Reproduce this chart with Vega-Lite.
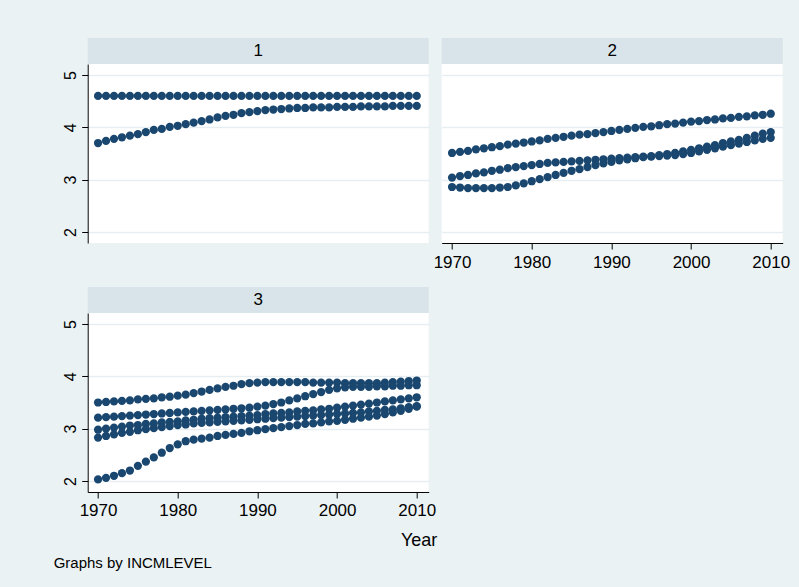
{
"$schema": "https://vega.github.io/schema/vega-lite/v6.json",
"background": "#eaf2f3",
"padding": {"left": 52.7, "top": 38, "right": 10, "bottom": 17},
"title": {"text": "Graphs by INCMLEVEL", "orient": "bottom", "anchor": "start", "frame": "bounds", "offset": 6, "dx": -9, "fontSize": 15, "fontWeight": "normal", "font": "Liberation Sans", "color": "black", "baseline": "top"},
"config": {"view": {"fill": "white", "stroke": null}, "font": "Liberation Sans"},
"datasets": {
"p1": [
{"series":"a","year":1970,"value":4.6},{"series":"a","year":1971,"value":4.6},{"series":"a","year":1972,"value":4.6},{"series":"a","year":1973,"value":4.6},{"series":"a","year":1974,"value":4.6},{"series":"a","year":1975,"value":4.6},{"series":"a","year":1976,"value":4.6},{"series":"a","year":1977,"value":4.6},{"series":"a","year":1978,"value":4.6},{"series":"a","year":1979,"value":4.6},
{"series":"a","year":1980,"value":4.6},{"series":"a","year":1981,"value":4.6},{"series":"a","year":1982,"value":4.6},{"series":"a","year":1983,"value":4.6},{"series":"a","year":1984,"value":4.6},{"series":"a","year":1985,"value":4.6},{"series":"a","year":1986,"value":4.6},{"series":"a","year":1987,"value":4.6},{"series":"a","year":1988,"value":4.6},{"series":"a","year":1989,"value":4.6},
{"series":"a","year":1990,"value":4.6},{"series":"a","year":1991,"value":4.6},{"series":"a","year":1992,"value":4.6},{"series":"a","year":1993,"value":4.6},{"series":"a","year":1994,"value":4.6},{"series":"a","year":1995,"value":4.6},{"series":"a","year":1996,"value":4.6},{"series":"a","year":1997,"value":4.6},{"series":"a","year":1998,"value":4.6},{"series":"a","year":1999,"value":4.6},
{"series":"a","year":2000,"value":4.6},{"series":"a","year":2001,"value":4.6},{"series":"a","year":2002,"value":4.6},{"series":"a","year":2003,"value":4.6},{"series":"a","year":2004,"value":4.6},{"series":"a","year":2005,"value":4.6},{"series":"a","year":2006,"value":4.6},{"series":"a","year":2007,"value":4.6},{"series":"a","year":2008,"value":4.6},{"series":"a","year":2009,"value":4.6},{"series":"a","year":2010,"value":4.6},
{"series":"b","year":1970,"value":3.70},{"series":"b","year":1971,"value":3.74},{"series":"b","year":1972,"value":3.78},{"series":"b","year":1973,"value":3.81},{"series":"b","year":1974,"value":3.84},{"series":"b","year":1975,"value":3.87},{"series":"b","year":1976,"value":3.91},{"series":"b","year":1977,"value":3.95},{"series":"b","year":1978,"value":3.97},{"series":"b","year":1979,"value":4.01},
{"series":"b","year":1980,"value":4.03},{"series":"b","year":1981,"value":4.06},{"series":"b","year":1982,"value":4.09},{"series":"b","year":1983,"value":4.12},{"series":"b","year":1984,"value":4.15},{"series":"b","year":1985,"value":4.19},{"series":"b","year":1986,"value":4.22},{"series":"b","year":1987,"value":4.24},{"series":"b","year":1988,"value":4.27},{"series":"b","year":1989,"value":4.29},
{"series":"b","year":1990,"value":4.31},{"series":"b","year":1991,"value":4.33},{"series":"b","year":1992,"value":4.34},{"series":"b","year":1993,"value":4.35},{"series":"b","year":1994,"value":4.36},{"series":"b","year":1995,"value":4.37},{"series":"b","year":1996,"value":4.37},{"series":"b","year":1997,"value":4.38},{"series":"b","year":1998,"value":4.38},{"series":"b","year":1999,"value":4.38},
{"series":"b","year":2000,"value":4.39},{"series":"b","year":2001,"value":4.39},{"series":"b","year":2002,"value":4.39},{"series":"b","year":2003,"value":4.40},{"series":"b","year":2004,"value":4.40},{"series":"b","year":2005,"value":4.40},{"series":"b","year":2006,"value":4.40},{"series":"b","year":2007,"value":4.41},{"series":"b","year":2008,"value":4.41},{"series":"b","year":2009,"value":4.41},{"series":"b","year":2010,"value":4.41}
],
"p2": [
{"series":"a","year":1970,"value":3.51},{"series":"a","year":1971,"value":3.53},{"series":"a","year":1972,"value":3.55},{"series":"a","year":1973,"value":3.58},{"series":"a","year":1974,"value":3.60},{"series":"a","year":1975,"value":3.62},{"series":"a","year":1976,"value":3.64},{"series":"a","year":1977,"value":3.67},{"series":"a","year":1978,"value":3.69},{"series":"a","year":1979,"value":3.71},
{"series":"a","year":1980,"value":3.73},{"series":"a","year":1981,"value":3.75},{"series":"a","year":1982,"value":3.78},{"series":"a","year":1983,"value":3.80},{"series":"a","year":1984,"value":3.82},{"series":"a","year":1985,"value":3.84},{"series":"a","year":1986,"value":3.86},{"series":"a","year":1987,"value":3.87},{"series":"a","year":1988,"value":3.89},{"series":"a","year":1989,"value":3.91},
{"series":"a","year":1990,"value":3.93},{"series":"a","year":1991,"value":3.95},{"series":"a","year":1992,"value":3.97},{"series":"a","year":1993,"value":3.99},{"series":"a","year":1994,"value":4.01},{"series":"a","year":1995,"value":4.02},{"series":"a","year":1996,"value":4.04},{"series":"a","year":1997,"value":4.06},{"series":"a","year":1998,"value":4.07},{"series":"a","year":1999,"value":4.09},
{"series":"a","year":2000,"value":4.11},{"series":"a","year":2001,"value":4.12},{"series":"a","year":2002,"value":4.14},{"series":"a","year":2003,"value":4.15},{"series":"a","year":2004,"value":4.17},{"series":"a","year":2005,"value":4.18},{"series":"a","year":2006,"value":4.20},{"series":"a","year":2007,"value":4.21},{"series":"a","year":2008,"value":4.23},{"series":"a","year":2009,"value":4.24},{"series":"a","year":2010,"value":4.26},
{"series":"b","year":1970,"value":3.04},{"series":"b","year":1971,"value":3.07},{"series":"b","year":1972,"value":3.09},{"series":"b","year":1973,"value":3.12},{"series":"b","year":1974,"value":3.14},{"series":"b","year":1975,"value":3.17},{"series":"b","year":1976,"value":3.19},{"series":"b","year":1977,"value":3.22},{"series":"b","year":1978,"value":3.24},{"series":"b","year":1979,"value":3.26},
{"series":"b","year":1980,"value":3.28},{"series":"b","year":1981,"value":3.30},{"series":"b","year":1982,"value":3.32},{"series":"b","year":1983,"value":3.33},{"series":"b","year":1984,"value":3.34},{"series":"b","year":1985,"value":3.35},{"series":"b","year":1986,"value":3.36},{"series":"b","year":1987,"value":3.37},{"series":"b","year":1988,"value":3.38},{"series":"b","year":1989,"value":3.39},
{"series":"b","year":1990,"value":3.40},{"series":"b","year":1991,"value":3.41},{"series":"b","year":1992,"value":3.42},{"series":"b","year":1993,"value":3.43},{"series":"b","year":1994,"value":3.44},{"series":"b","year":1995,"value":3.45},{"series":"b","year":1996,"value":3.47},{"series":"b","year":1997,"value":3.49},{"series":"b","year":1998,"value":3.51},{"series":"b","year":1999,"value":3.54},
{"series":"b","year":2000,"value":3.57},{"series":"b","year":2001,"value":3.60},{"series":"b","year":2002,"value":3.63},{"series":"b","year":2003,"value":3.66},{"series":"b","year":2004,"value":3.70},{"series":"b","year":2005,"value":3.73},{"series":"b","year":2006,"value":3.76},{"series":"b","year":2007,"value":3.80},{"series":"b","year":2008,"value":3.84},{"series":"b","year":2009,"value":3.88},{"series":"b","year":2010,"value":3.91},
{"series":"c","year":1970,"value":2.86},{"series":"c","year":1971,"value":2.85},{"series":"c","year":1972,"value":2.84},{"series":"c","year":1973,"value":2.84},{"series":"c","year":1974,"value":2.84},{"series":"c","year":1975,"value":2.84},{"series":"c","year":1976,"value":2.85},{"series":"c","year":1977,"value":2.86},{"series":"c","year":1978,"value":2.89},{"series":"c","year":1979,"value":2.93},
{"series":"c","year":1980,"value":2.97},{"series":"c","year":1981,"value":3.01},{"series":"c","year":1982,"value":3.05},{"series":"c","year":1983,"value":3.09},{"series":"c","year":1984,"value":3.13},{"series":"c","year":1985,"value":3.17},{"series":"c","year":1986,"value":3.20},{"series":"c","year":1987,"value":3.24},{"series":"c","year":1988,"value":3.28},{"series":"c","year":1989,"value":3.31},
{"series":"c","year":1990,"value":3.34},{"series":"c","year":1991,"value":3.37},{"series":"c","year":1992,"value":3.39},{"series":"c","year":1993,"value":3.41},{"series":"c","year":1994,"value":3.43},{"series":"c","year":1995,"value":3.44},{"series":"c","year":1996,"value":3.45},{"series":"c","year":1997,"value":3.46},{"series":"c","year":1998,"value":3.47},{"series":"c","year":1999,"value":3.49},
{"series":"c","year":2000,"value":3.51},{"series":"c","year":2001,"value":3.54},{"series":"c","year":2002,"value":3.57},{"series":"c","year":2003,"value":3.60},{"series":"c","year":2004,"value":3.63},{"series":"c","year":2005,"value":3.66},{"series":"c","year":2006,"value":3.69},{"series":"c","year":2007,"value":3.72},{"series":"c","year":2008,"value":3.75},{"series":"c","year":2009,"value":3.78},{"series":"c","year":2010,"value":3.80}
],
"p3": [
{"series":"a","year":1970,"value":3.50},{"series":"a","year":1971,"value":3.51},{"series":"a","year":1972,"value":3.52},{"series":"a","year":1973,"value":3.53},{"series":"a","year":1974,"value":3.54},{"series":"a","year":1975,"value":3.56},{"series":"a","year":1976,"value":3.57},{"series":"a","year":1977,"value":3.58},{"series":"a","year":1978,"value":3.60},{"series":"a","year":1979,"value":3.61},
{"series":"a","year":1980,"value":3.63},{"series":"a","year":1981,"value":3.65},{"series":"a","year":1982,"value":3.68},{"series":"a","year":1983,"value":3.71},{"series":"a","year":1984,"value":3.74},{"series":"a","year":1985,"value":3.77},{"series":"a","year":1986,"value":3.80},{"series":"a","year":1987,"value":3.82},{"series":"a","year":1988,"value":3.85},{"series":"a","year":1989,"value":3.87},
{"series":"a","year":1990,"value":3.88},{"series":"a","year":1991,"value":3.89},{"series":"a","year":1992,"value":3.89},{"series":"a","year":1993,"value":3.89},{"series":"a","year":1994,"value":3.89},{"series":"a","year":1995,"value":3.89},{"series":"a","year":1996,"value":3.89},{"series":"a","year":1997,"value":3.88},{"series":"a","year":1998,"value":3.88},{"series":"a","year":1999,"value":3.88},
{"series":"a","year":2000,"value":3.88},{"series":"a","year":2001,"value":3.87},{"series":"a","year":2002,"value":3.87},{"series":"a","year":2003,"value":3.87},{"series":"a","year":2004,"value":3.87},{"series":"a","year":2005,"value":3.87},{"series":"a","year":2006,"value":3.88},{"series":"a","year":2007,"value":3.89},{"series":"a","year":2008,"value":3.90},{"series":"a","year":2009,"value":3.91},{"series":"a","year":2010,"value":3.92},
{"series":"b","year":1970,"value":3.21},{"series":"b","year":1971,"value":3.22},{"series":"b","year":1972,"value":3.23},{"series":"b","year":1973,"value":3.24},{"series":"b","year":1974,"value":3.25},{"series":"b","year":1975,"value":3.26},{"series":"b","year":1976,"value":3.27},{"series":"b","year":1977,"value":3.28},{"series":"b","year":1978,"value":3.29},{"series":"b","year":1979,"value":3.30},
{"series":"b","year":1980,"value":3.31},{"series":"b","year":1981,"value":3.32},{"series":"b","year":1982,"value":3.33},{"series":"b","year":1983,"value":3.34},{"series":"b","year":1984,"value":3.35},{"series":"b","year":1985,"value":3.36},{"series":"b","year":1986,"value":3.37},{"series":"b","year":1987,"value":3.38},{"series":"b","year":1988,"value":3.39},{"series":"b","year":1989,"value":3.40},
{"series":"b","year":1990,"value":3.42},{"series":"b","year":1991,"value":3.44},{"series":"b","year":1992,"value":3.47},{"series":"b","year":1993,"value":3.50},{"series":"b","year":1994,"value":3.54},{"series":"b","year":1995,"value":3.58},{"series":"b","year":1996,"value":3.62},{"series":"b","year":1997,"value":3.66},{"series":"b","year":1998,"value":3.70},{"series":"b","year":1999,"value":3.74},
{"series":"b","year":2000,"value":3.77},{"series":"b","year":2001,"value":3.79},{"series":"b","year":2002,"value":3.80},{"series":"b","year":2003,"value":3.80},{"series":"b","year":2004,"value":3.80},{"series":"b","year":2005,"value":3.81},{"series":"b","year":2006,"value":3.81},{"series":"b","year":2007,"value":3.82},{"series":"b","year":2008,"value":3.82},{"series":"b","year":2009,"value":3.83},{"series":"b","year":2010,"value":3.83},
{"series":"c","year":1970,"value":2.98},{"series":"c","year":1971,"value":3.00},{"series":"c","year":1972,"value":3.02},{"series":"c","year":1973,"value":3.04},{"series":"c","year":1974,"value":3.06},{"series":"c","year":1975,"value":3.07},{"series":"c","year":1976,"value":3.09},{"series":"c","year":1977,"value":3.10},{"series":"c","year":1978,"value":3.12},{"series":"c","year":1979,"value":3.13},
{"series":"c","year":1980,"value":3.14},{"series":"c","year":1981,"value":3.16},{"series":"c","year":1982,"value":3.17},{"series":"c","year":1983,"value":3.19},{"series":"c","year":1984,"value":3.20},{"series":"c","year":1985,"value":3.21},{"series":"c","year":1986,"value":3.22},{"series":"c","year":1987,"value":3.23},{"series":"c","year":1988,"value":3.24},{"series":"c","year":1989,"value":3.25},
{"series":"c","year":1990,"value":3.26},{"series":"c","year":1991,"value":3.28},{"series":"c","year":1992,"value":3.29},{"series":"c","year":1993,"value":3.30},{"series":"c","year":1994,"value":3.31},{"series":"c","year":1995,"value":3.33},{"series":"c","year":1996,"value":3.34},{"series":"c","year":1997,"value":3.35},{"series":"c","year":1998,"value":3.37},{"series":"c","year":1999,"value":3.38},
{"series":"c","year":2000,"value":3.40},{"series":"c","year":2001,"value":3.42},{"series":"c","year":2002,"value":3.44},{"series":"c","year":2003,"value":3.46},{"series":"c","year":2004,"value":3.48},{"series":"c","year":2005,"value":3.50},{"series":"c","year":2006,"value":3.52},{"series":"c","year":2007,"value":3.54},{"series":"c","year":2008,"value":3.56},{"series":"c","year":2009,"value":3.58},{"series":"c","year":2010,"value":3.60},
{"series":"d","year":1970,"value":2.83},{"series":"d","year":1971,"value":2.86},{"series":"d","year":1972,"value":2.89},{"series":"d","year":1973,"value":2.92},{"series":"d","year":1974,"value":2.94},{"series":"d","year":1975,"value":2.97},{"series":"d","year":1976,"value":2.99},{"series":"d","year":1977,"value":3.01},{"series":"d","year":1978,"value":3.03},{"series":"d","year":1979,"value":3.05},
{"series":"d","year":1980,"value":3.07},{"series":"d","year":1981,"value":3.08},{"series":"d","year":1982,"value":3.10},{"series":"d","year":1983,"value":3.11},{"series":"d","year":1984,"value":3.12},{"series":"d","year":1985,"value":3.13},{"series":"d","year":1986,"value":3.14},{"series":"d","year":1987,"value":3.15},{"series":"d","year":1988,"value":3.16},{"series":"d","year":1989,"value":3.17},
{"series":"d","year":1990,"value":3.18},{"series":"d","year":1991,"value":3.19},{"series":"d","year":1992,"value":3.20},{"series":"d","year":1993,"value":3.21},{"series":"d","year":1994,"value":3.22},{"series":"d","year":1995,"value":3.23},{"series":"d","year":1996,"value":3.24},{"series":"d","year":1997,"value":3.25},{"series":"d","year":1998,"value":3.26},{"series":"d","year":1999,"value":3.27},
{"series":"d","year":2000,"value":3.28},{"series":"d","year":2001,"value":3.29},{"series":"d","year":2002,"value":3.30},{"series":"d","year":2003,"value":3.31},{"series":"d","year":2004,"value":3.33},{"series":"d","year":2005,"value":3.34},{"series":"d","year":2006,"value":3.36},{"series":"d","year":2007,"value":3.37},{"series":"d","year":2008,"value":3.39},{"series":"d","year":2009,"value":3.41},{"series":"d","year":2010,"value":3.43},
{"series":"e","year":1970,"value":2.03},{"series":"e","year":1971,"value":2.06},{"series":"e","year":1972,"value":2.10},{"series":"e","year":1973,"value":2.15},{"series":"e","year":1974,"value":2.20},{"series":"e","year":1975,"value":2.29},{"series":"e","year":1976,"value":2.37},{"series":"e","year":1977,"value":2.45},{"series":"e","year":1978,"value":2.54},{"series":"e","year":1979,"value":2.63},
{"series":"e","year":1980,"value":2.70},{"series":"e","year":1981,"value":2.76},{"series":"e","year":1982,"value":2.79},{"series":"e","year":1983,"value":2.81},{"series":"e","year":1984,"value":2.83},{"series":"e","year":1985,"value":2.86},{"series":"e","year":1986,"value":2.88},{"series":"e","year":1987,"value":2.90},{"series":"e","year":1988,"value":2.92},{"series":"e","year":1989,"value":2.95},
{"series":"e","year":1990,"value":2.97},{"series":"e","year":1991,"value":2.99},{"series":"e","year":1992,"value":3.01},{"series":"e","year":1993,"value":3.03},{"series":"e","year":1994,"value":3.05},{"series":"e","year":1995,"value":3.07},{"series":"e","year":1996,"value":3.09},{"series":"e","year":1997,"value":3.10},{"series":"e","year":1998,"value":3.12},{"series":"e","year":1999,"value":3.14},
{"series":"e","year":2000,"value":3.15},{"series":"e","year":2001,"value":3.17},{"series":"e","year":2002,"value":3.19},{"series":"e","year":2003,"value":3.21},{"series":"e","year":2004,"value":3.23},{"series":"e","year":2005,"value":3.25},{"series":"e","year":2006,"value":3.28},{"series":"e","year":2007,"value":3.31},{"series":"e","year":2008,"value":3.34},{"series":"e","year":2009,"value":3.38},{"series":"e","year":2010,"value":3.42}
]
},
"columns": 2,
"spacing": {"row": 0, "column": 13},
"bounds": "flush",
"concat": [
{"width": 341, "height": 26, "view": {"fill": "#d8e4ea", "stroke": null}, "data": {"values": [{"label": "1"}]}, "mark": {"type": "text", "fontSize": 17, "font": "Liberation Sans", "color": "black", "baseline": "middle", "align": "center"}, "encoding": {"text": {"field": "label"}}},
{"width": 341, "height": 26, "view": {"fill": "#d8e4ea", "stroke": null}, "data": {"values": [{"label": "2"}]}, "mark": {"type": "text", "fontSize": 17, "font": "Liberation Sans", "color": "black", "baseline": "middle", "align": "center"}, "encoding": {"text": {"field": "label"}}},
{"width": 341, "height": 179, "data": {"name": "p1"},
"mark": {"type": "point", "filled": true, "size": 68, "opacity": 1, "color": "#1a476f", "strokeWidth": 0},
"encoding": {
"x": {"field": "year", "type": "quantitative", "scale": {"domain": [1968.7, 2011.5], "nice": false, "zero": false}, "axis": null},
"y": {"field": "value", "type": "quantitative", "scale": {"domain": [1.79, 5.21], "nice": false, "zero": false}, "axis": {"title": null, "values": [2, 3, 4, 5], "labelAngle": -90, "labelAlign": "center", "labelBaseline": "bottom", "labelFontSize": 16, "labelFont": "Liberation Sans", "labelColor": "black", "tickSize": 6, "tickColor": "black", "domainColor": "black", "labelPadding": 3, "grid": true, "gridColor": "#e6eef1", "gridWidth": 1.5, "labelFlush": false, "labelOverlap": false}},
"detail": {"field": "series"}
}},
{"width": 341, "height": 179, "data": {"name": "p2"},
"mark": {"type": "point", "filled": true, "size": 68, "opacity": 1, "color": "#1a476f", "strokeWidth": 0},
"encoding": {
"x": {"field": "year", "type": "quantitative", "scale": {"domain": [1968.7, 2011.5], "nice": false, "zero": false}, "axis": {"title": null, "values": [1970, 1980, 1990, 2000, 2010], "format": "d", "labelFontSize": 17, "labelFont": "Liberation Sans", "labelColor": "black", "tickSize": 6, "tickColor": "black", "domainColor": "black", "labelPadding": 5, "grid": false, "labelFlush": false, "labelOverlap": false}},
"y": {"field": "value", "type": "quantitative", "scale": {"domain": [1.79, 5.21], "nice": false, "zero": false}, "axis": {"title": null, "values": [2, 3, 4, 5], "labels": false, "ticks": false, "domain": false, "grid": true, "gridColor": "#e6eef1", "gridWidth": 1.5}},
"detail": {"field": "series"}
}},
{"width": 341, "height": 44, "view": {"fill": null, "stroke": null}, "data": {"values": []}, "mark": {"type": "point"}, "encoding": {}},
{"width": 341, "height": 44, "view": {"fill": null, "stroke": null}, "data": {"values": []}, "mark": {"type": "point"}, "encoding": {}},
{"width": 341, "height": 26, "view": {"fill": "#d8e4ea", "stroke": null}, "data": {"values": [{"label": "3"}]}, "mark": {"type": "text", "fontSize": 17, "font": "Liberation Sans", "color": "black", "baseline": "middle", "align": "center"}, "encoding": {"text": {"field": "label"}}},
{"width": 341, "height": 26, "view": {"fill": null, "stroke": null}, "data": {"values": []}, "mark": {"type": "point"}, "encoding": {}},
{"width": 341, "height": 179, "data": {"name": "p3"},
"mark": {"type": "point", "filled": true, "size": 68, "opacity": 1, "color": "#1a476f", "strokeWidth": 0},
"encoding": {
"x": {"field": "year", "type": "quantitative", "scale": {"domain": [1968.7, 2011.5], "nice": false, "zero": false}, "axis": {"title": "Year", "titleFontSize": 18, "titleFontWeight": "normal", "titleFont": "Liberation Sans", "titleColor": "black", "titleX": 331, "titleY": 54, "titleAlign": "center", "titleBaseline": "alphabetic", "values": [1970, 1980, 1990, 2000, 2010], "format": "d", "labelFontSize": 17, "labelFont": "Liberation Sans", "labelColor": "black", "tickSize": 6, "tickColor": "black", "domainColor": "black", "labelPadding": 5, "grid": false, "labelFlush": false, "labelOverlap": false}},
"y": {"field": "value", "type": "quantitative", "scale": {"domain": [1.79, 5.21], "nice": false, "zero": false}, "axis": {"title": null, "values": [2, 3, 4, 5], "labelAngle": -90, "labelAlign": "center", "labelBaseline": "bottom", "labelFontSize": 16, "labelFont": "Liberation Sans", "labelColor": "black", "tickSize": 6, "tickColor": "black", "domainColor": "black", "labelPadding": 3, "grid": true, "gridColor": "#e6eef1", "gridWidth": 1.5, "labelFlush": false, "labelOverlap": false}},
"detail": {"field": "series"}
}}
]
}
